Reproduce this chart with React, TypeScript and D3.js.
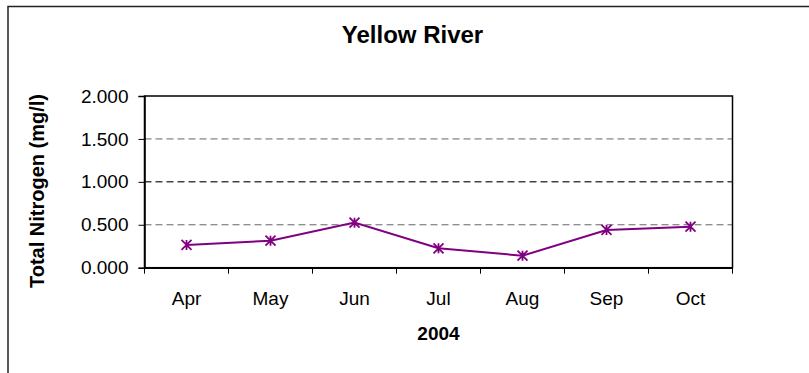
import React, { useEffect, useRef } from 'react';
import * as d3 from 'd3';

const months: string[] = ['Apr', 'May', 'Jun', 'Jul', 'Aug', 'Sep', 'Oct'];
const nitrogen: number[] = [0.265, 0.315, 0.525, 0.226, 0.14, 0.44, 0.478];
const yTicks: number[] = [0, 0.5, 1, 1.5, 2];

const W = 809;
const H = 373;

const App: React.FC = () => {
  const svgRef = useRef<SVGSVGElement | null>(null);

  useEffect(() => {
    if (!svgRef.current) return;
    const svg = d3.select(svgRef.current);
    svg.selectAll('*').remove();

    const font = 'Arial, "Liberation Sans", sans-serif';
    const left = 144.5;
    const right = 732.5;
    const top = 96;
    const bottom = 267.7;

    // outer chart frame (runs off the picture to the right and bottom)
    svg
      .append('rect')
      .attr('x', 8)
      .attr('y', 6.5)
      .attr('width', 900)
      .attr('height', 500)
      .attr('fill', '#fff')
      .attr('stroke', '#222')
      .attr('stroke-width', 1.5);

    const x = d3.scaleBand<string>().domain(months).range([left, right]);
    const y = d3.scaleLinear().domain([0, 2]).range([bottom, top]);

    // gridlines
    svg
      .append('g')
      .selectAll('line')
      .data(yTicks.filter((t) => t > 0 && t < 2))
      .enter()
      .append('line')
      .attr('x1', left)
      .attr('x2', right)
      .attr('y1', (d) => y(d))
      .attr('y2', (d) => y(d))
      .attr('stroke', (d) => (d === 1 ? '#444' : '#666'))
      .attr('stroke-width', (d) => (d === 1 ? 1.5 : 1))
      .attr('stroke-dasharray', '7,4');

    // plot border
    svg
      .append('rect')
      .attr('x', left)
      .attr('y', top)
      .attr('width', right - left)
      .attr('height', bottom - top)
      .attr('fill', 'none')
      .attr('stroke', '#000')
      .attr('stroke-width', 1.5);

    // y axis
    const yAxis = svg
      .append('g')
      .attr('transform', `translate(${left},0)`)
      .call(
        d3
          .axisLeft(y)
          .tickValues(yTicks)
          .tickSize(6)
          .tickPadding(10)
          .tickFormat((d) => d3.format('.3f')(d as number))
      );
    yAxis.select('.domain').attr('stroke', '#000').attr('stroke-width', 1.5);
    yAxis.selectAll('line').attr('stroke', '#000');
    yAxis
      .selectAll('text')
      .attr('font-family', font)
      .attr('font-size', 19)
      .attr('fill', '#000');

    // x axis: ticks on category boundaries
    const xAxis = svg
      .append('g')
      .attr('transform', `translate(0,${bottom})`)
      .call(d3.axisBottom(x).tickSize(0).tickPadding(24));
    xAxis.select('.domain').attr('stroke', '#000').attr('stroke-width', 1.5);
    xAxis
      .selectAll('text')
      .attr('font-family', font)
      .attr('font-size', 19)
      .attr('fill', '#000');
    xAxis
      .selectAll('line.bound')
      .data([...months.map((m) => x(m) as number), right])
      .enter()
      .append('line')
      .attr('class', 'bound')
      .attr('x1', (d) => d)
      .attr('x2', (d) => d)
      .attr('y1', 0)
      .attr('y2', 6)
      .attr('stroke', '#000')
      .attr('stroke-width', 1);

    const cx = (m: string) => (x(m) as number) + x.bandwidth() / 2;

    // series line
    const line = d3
      .line<number>()
      .x((_, i) => cx(months[i]))
      .y((d) => y(d));
    svg
      .append('path')
      .datum(nitrogen)
      .attr('d', line)
      .attr('fill', 'none')
      .attr('stroke', '#800080')
      .attr('stroke-width', 2);

    // asterisk markers
    const r = 5;
    const star = `M0,${-r}L0,${r}M${-r},${-r}L${r},${r}M${-r},${r}L${r},${-r}`;
    svg
      .append('g')
      .selectAll('path')
      .data(nitrogen)
      .enter()
      .append('path')
      .attr('transform', (d, i) => `translate(${cx(months[i])},${y(d)})`)
      .attr('d', star)
      .attr('stroke', '#800080')
      .attr('stroke-width', 1.8)
      .attr('fill', 'none');

    // titles
    svg
      .append('text')
      .attr('x', 412.5)
      .attr('y', 43)
      .attr('text-anchor', 'middle')
      .attr('font-family', font)
      .attr('font-weight', 'bold')
      .attr('font-size', 24)
      .text('Yellow River');

    svg
      .append('text')
      .attr('x', (left + right) / 2)
      .attr('y', 340)
      .attr('text-anchor', 'middle')
      .attr('font-family', font)
      .attr('font-weight', 'bold')
      .attr('font-size', 19)
      .text('2004');

    svg
      .append('text')
      .attr('transform', 'translate(44,191) rotate(-90)')
      .attr('text-anchor', 'middle')
      .attr('font-family', font)
      .attr('font-weight', 'bold')
      .attr('font-size', 20)
      .text('Total Nitrogen (mg/l)');
  }, []);

  return (
    <svg
      ref={svgRef}
      width={W}
      height={H}
      style={{ position: 'absolute', left: 0, top: 0, display: 'block' }}
    />
  );
};

export default App;
